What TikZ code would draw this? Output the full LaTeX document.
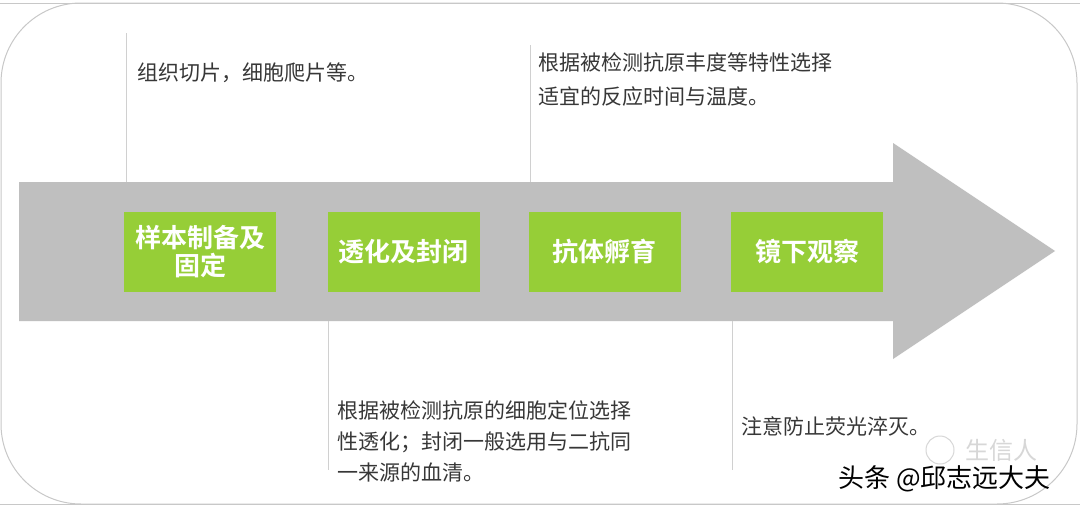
\documentclass[tikz,border=0pt]{standalone}
\usepackage{fontspec}
\setmainfont{Liberation Sans}
\newfontfamily\cjk{Noto Sans CJK SC}
\newfontfamily\cjkb{Noto Sans CJK SC Bold}
\definecolor{framegray}{RGB}{200,200,200}
\definecolor{arrowgray}{RGB}{191,191,191}
\definecolor{boxgreen}{RGB}{150,206,55}
\definecolor{txtgray}{RGB}{55,55,55}
\definecolor{leadgray}{RGB}{208,208,208}
\definecolor{wmgray}{RGB}{215,215,215}
\tikzset{
  stepbox/.style={fill=boxgreen, draw=none, minimum width=152pt, minimum height=80pt,
    inner sep=0pt, align=center, text=white, font=\cjkb\fontsize{26}{28}\selectfont},
  leader/.style={draw=leadgray, line width=0.8pt},
  note/.style={inner sep=0pt, anchor=base west, align=left, text=txtgray},
}
\begin{document}
\begin{tikzpicture}[x=1pt,y=-1pt]
\useasboundingbox (0,0) rectangle (1080,506);
\fill[white] (0,0) rectangle (1080,506);
% frame
\draw[framegray, line width=1pt] (0,3) -- (1080,3);
\draw[framegray, line width=1pt] (0,504) -- (1080,504);
\draw[framegray, line width=1pt, rounded corners=80pt] (1,3) rectangle (1077,504);
% arrow
\fill[arrowgray] (19,182) -- (893,182) -- (893,143) -- (1055,251) -- (893,359) -- (893,321) -- (19,321) -- cycle;
% boxes
\node[stepbox] (b1) at (200,252) {样本制备及\\固定};
\node[stepbox] (b2) at (403.5,252) {透化及封闭};
\node[stepbox] (b3) at (604.5,252) {抗体孵育};
\node[stepbox] (b4) at (807,252) {镜下观察};
% leader lines
\coordinate (l1a) at (126,33);  \coordinate (l1b) at (126,182);
\coordinate (l2a) at (328,321); \coordinate (l2b) at (328,470);
\coordinate (l3a) at (530,45);  \coordinate (l3b) at (530,182);
\coordinate (l4a) at (732,321); \coordinate (l4b) at (732,470);
\draw[leader] (l1a) -- (l1b);
\draw[leader] (l2a) -- (l2b);
\draw[leader] (l3a) -- (l3b);
\draw[leader] (l4a) -- (l4b);
% notes (base anchor = baseline of last line)
\node[note, font=\cjk\fontsize{21}{34}\selectfont] (t1) at (137,80) {组织切片，细胞爬片等。};
\node[note, font=\cjk\fontsize{21}{34}\selectfont] (t3) at (538,104) {根据被检测抗原丰度等特性选择\\适宜的反应时间与温度。};
\node[note, font=\cjk\fontsize{21}{31}\selectfont] (t2) at (337,480) {根据被检测抗原的细胞定位选择\\性透化；封闭一般选用与二抗同\\一来源的血清。};
\node[note, font=\cjk\fontsize{21}{31}\selectfont] (t4) at (741,434) {注意防止荧光淬灭。};
% watermark
\draw[wmgray, line width=1pt] (940,450) circle (14pt);
\node[inner sep=0pt, anchor=base west, text=wmgray, font=\cjk\fontsize{24}{28}\selectfont] (wm1) at (965,459) {生信人};
\node[inner sep=0pt, anchor=base west, text=black, font=\cjk\fontsize{26}{28}\selectfont] (wm2) at (838,487) {头条 @邱志远大夫};
\end{tikzpicture}
\end{document}
